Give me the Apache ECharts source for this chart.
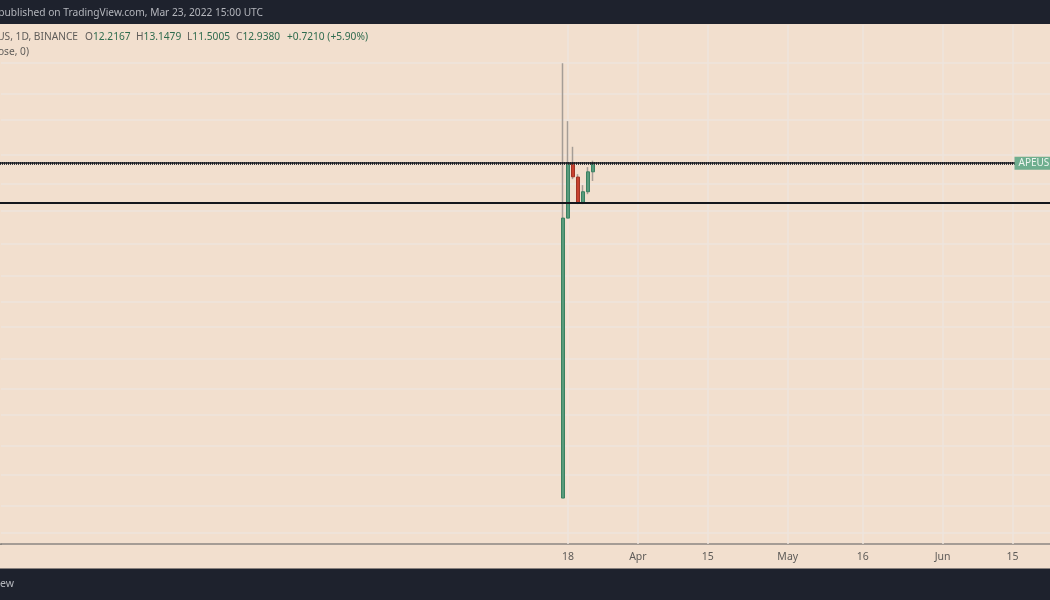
<!DOCTYPE html>
<html><head><meta charset="utf-8">
<style>html,body{margin:0;padding:0;background:#f2dfce}#c{width:1050px;height:600px}</style>
<script src="https://cdn.jsdelivr.net/npm/echarts@6/dist/echarts.min.js"></script>
</head><body><div id="c"></div>
<script>
const candleDates = ['2022-03-17','2022-03-18','2022-03-19','2022-03-20','2022-03-21','2022-03-22','2022-03-23'];
const opens  = [1.418, 9.00, 12.94, 11.80, 9.96, 10.71, 12.2167];
const closes = [9.00, 12.94, 11.82, 9.96, 10.71, 12.2167, 12.938];
const lows   = [1.418, 9.00, 11.64, 9.87, 9.87, 10.54, 11.5005];
const highs  = [25.03, 17.07, 14.41, 12.03, 11.19, 12.60, 13.1479];
const tickLabels = {'2022-03-18':'18','2022-04-01':'Apr','2022-04-15':'15','2022-05-01':'May','2022-05-16':'16','2022-06-01':'Jun','2022-06-15':'15'};
const priceGrid = [25.08,20.4,17.2,13.7,11.26,9.43,7.58,6.15,5.17,4.38,3.55,2.91,2.45,2.0,1.65,1.354,1.125];
const levelUpper = 12.938, levelLower = 9.93;
const firstDay = '2021-11-25', dayCount = 210;

const categories = [];
for (let i = 0; i < dayCount; i++) {
  const d = new Date(Date.parse(firstDay + 'T00:00:00Z') + i * 86400000);
  categories.push(d.toISOString().slice(0, 10));
}
const GREEN='#589b7c', GREEN_B='#3a8162', RED='#c8412f', RED_B='#a03324', WICK='#a59d96', TXT='#5f5c59', VAL='#2e6b4e', GRIDC='#eee5dd', AXISC='#8c8782';
const FONT='"Noto Sans", sans-serif';
const wickData = candleDates.map((d,i)=>[d,opens[i],closes[i],lows[i],highs[i]]);
const bodyData = candleDates.map((d,i)=>[d,opens[i],closes[i],Math.min(opens[i],closes[i]),Math.max(opens[i],closes[i])]);
const isTick = (i)=>tickLabels[categories[i]]!==undefined;
const ohlc = [['O','12.2167',85],['H','13.1479',136],['L','11.5005',187],['C','12.9380',236]];
const gridMarks = [
  ...priceGrid.map(v=>({yAxis:v})),
  ...Object.keys(tickLabels).map(d=>({xAxis:d}))
];

const chart = echarts.init(document.getElementById('c'),null,{renderer:'canvas'});
chart.setOption({
  animation:false,
  backgroundColor:'#f2dfce',
  grid:{left:1,top:25,width:1050,bottom:56},
  xAxis:{type:'category',data:categories,boundaryGap:true,
    axisLine:{show:true,lineStyle:{color:AXISC,width:1.5}},
    axisTick:{show:false,alignWithLabel:true},
    axisLabel:{show:true,interval:(i)=>isTick(i),formatter:(v)=>tickLabels[v]||'',color:TXT,fontFamily:FONT,fontSize:10.5,margin:8,hideOverlap:false},
    splitLine:{show:false}},
  yAxis:{type:'log',logBase:10,min:1.047,max:32.2,
    axisLine:{show:false},axisTick:{show:false},axisLabel:{show:false},splitLine:{show:false}},
  series:[
   {type:'candlestick',name:'wick',data:wickData,encode:{x:0,y:[1,2,3,4]},barWidth:1,silent:true,z:2,
    itemStyle:{color:WICK,color0:WICK,borderColor:WICK,borderColor0:WICK,borderWidth:1.5},
    markLine:{silent:true,symbol:'none',label:{show:false},z:1,animation:false,
      lineStyle:{color:GRIDC,type:'solid',width:1.5},data:gridMarks}},
   {type:'candlestick',name:'body',data:bodyData,encode:{x:0,y:[1,2,3,4]},barWidth:3,silent:true,z:3,
    itemStyle:{color:GREEN,color0:RED,borderColor:GREEN_B,borderColor0:RED_B,borderWidth:1},
    markLine:{silent:true,symbol:'none',label:{show:false},z:6,
      lineStyle:{color:'#14161c',type:'solid',width:2},
      data:[
       [{coord:[categories[0],levelLower],x:0},{coord:[categories[dayCount-1],levelLower],x:1050}],
       [{coord:[categories[0],levelUpper],x:0,lineStyle:{width:3,color:'#3a3d40',type:[1,1]}},{coord:[categories[dayCount-1],levelUpper],x:1015}],
       [{coord:[categories[0],levelUpper],x:0,lineStyle:{width:1.5,color:'#14161c'}},{coord:[categories[dayCount-1],levelUpper],x:1015}]
      ]},
    markPoint:{silent:true,z:8,data:[{coord:[categories[dayCount-1],levelUpper],symbol:'rect',symbolSize:[66,13],
      itemStyle:{color:'#6fae8f'},
      label:{show:true,formatter:'APEUSDT',position:'insideLeft',distance:4,color:'#eef5ef',fontFamily:FONT,fontSize:10}}]}
   }
  ],
  graphic:[
   {type:'rect',silent:true,z:100,shape:{x:0,y:0,width:1050,height:24},style:{fill:'#1e222d'}},
   {type:'rect',silent:true,z:100,shape:{x:0,y:568.5,width:1050,height:32},style:{fill:'#1e222d'}},
   {type:'rect',silent:true,z:100,shape:{x:0,y:543.5,width:2,height:1.5},style:{fill:AXISC}},
   {type:'text',silent:true,z:101,x:263,y:13.5,style:{text:'published on TradingView.com, Mar 23, 2022 15:00 UTC',align:'right',verticalAlign:'middle',fill:'#b4b6bc',font:'10.2px '+FONT}},
   {type:'text',silent:true,z:101,x:14,y:584.5,style:{text:'TradingView',align:'right',verticalAlign:'middle',fill:'#b4b6bc',font:'10.5px '+FONT}},
   {type:'text',silent:true,z:101,x:78,y:37.5,style:{text:'APE / TetherUS, 1D, BINANCE',align:'right',verticalAlign:'middle',fill:TXT,font:'10.2px '+FONT}},
   {type:'text',silent:true,z:101,x:29,y:52.5,style:{text:'(close, 0)',align:'right',verticalAlign:'middle',fill:TXT,font:'10.2px '+FONT}},
   ...ohlc.map(([k,v,x])=>({type:'text',silent:true,z:101,x,y:37.5,style:{
     rich:{l:{fill:TXT,font:'10.2px '+FONT},v:{fill:VAL,font:'10.2px '+FONT}},text:'{l|'+k+'}{v|'+v+'}',verticalAlign:'middle'}})),
   {type:'text',silent:true,z:101,x:287,y:37.5,style:{text:'+0.7210 (+5.90%)',verticalAlign:'middle',fill:VAL,font:'10.2px '+FONT}}
  ]
});
</script></body></html>
